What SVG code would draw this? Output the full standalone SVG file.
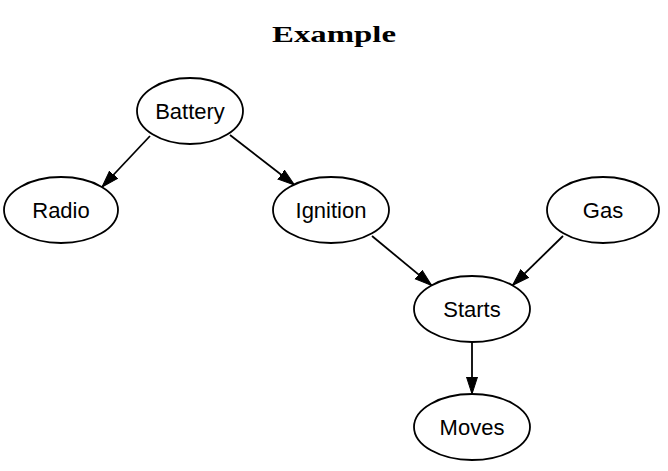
<svg xmlns="http://www.w3.org/2000/svg" width="668" height="471" viewBox="0 0 668 471">
<style>
.node ellipse{fill:#fff;stroke:#000;stroke-width:1.8}
.node text{font-family:"Liberation Sans",Arial,sans-serif;font-size:22px;text-anchor:middle;fill:#000}
.edge{stroke:#000;stroke-width:1.8;fill:none;marker-end:url(#arr)}
.title{font-family:"Liberation Serif","Times New Roman",serif;font-size:24px;font-weight:bold;text-anchor:middle}
</style>
<defs>
<marker id="arr" markerUnits="userSpaceOnUse" markerWidth="20" markerHeight="14" refX="17" refY="7" orient="auto">
<polygon points="0,1.5 17,7 0,12.5" fill="#000" stroke="#000" stroke-width="1"/>
</marker>
</defs>
<rect width="668" height="471" fill="#fff"/>
<text class="title" x="334" y="42" textLength="124" lengthAdjust="spacingAndGlyphs">Example</text>
<g id="edges">
<line class="edge" x1="150" y1="136" x2="102" y2="187"/>
<line class="edge" x1="230" y1="135" x2="294.5" y2="185"/>
<line class="edge" x1="372" y1="236" x2="431.7" y2="285.4"/>
<line class="edge" x1="563" y1="236" x2="512.5" y2="285.4"/>
<line class="edge" x1="472" y1="342" x2="472" y2="394"/>
</g>
<g id="battery" class="node"><ellipse cx="190" cy="111" rx="53" ry="33"/><text x="190" y="119">Battery</text></g>
<g id="radio" class="node"><ellipse cx="61" cy="210" rx="57" ry="33"/><text x="61" y="218">Radio</text></g>
<g id="ignition" class="node"><ellipse cx="331" cy="210" rx="58" ry="33"/><text x="331" y="218">Ignition</text></g>
<g id="gas" class="node"><ellipse cx="603" cy="210" rx="56" ry="33"/><text x="603" y="218">Gas</text></g>
<g id="starts" class="node"><ellipse cx="472" cy="309" rx="58" ry="33"/><text x="472" y="317">Starts</text></g>
<g id="moves" class="node"><ellipse cx="472" cy="427" rx="58" ry="33"/><text x="472" y="435">Moves</text></g>
</svg>
